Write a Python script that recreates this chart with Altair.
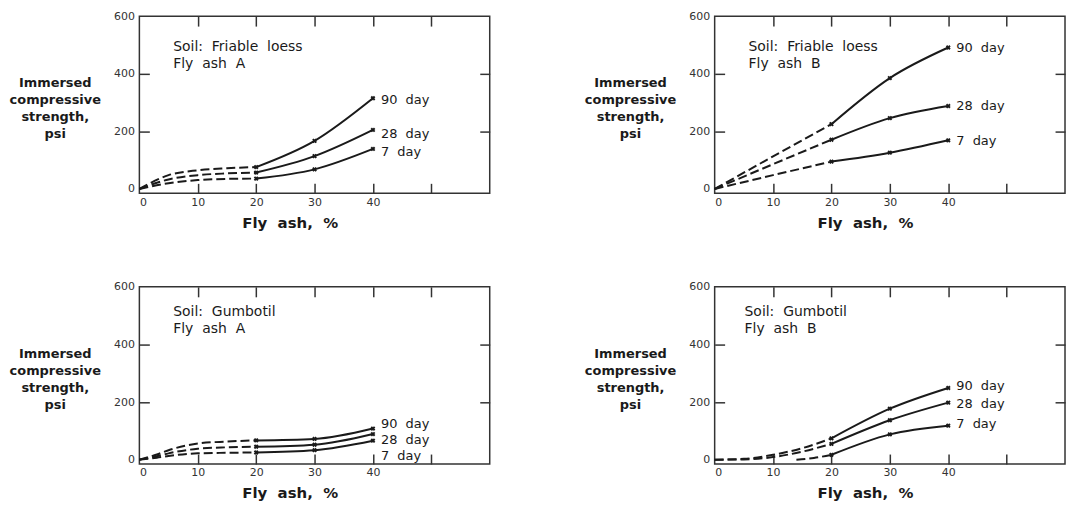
import altair as alt
import pandas as pd

SERIES = ["90 day", "28 day", "7 day"]
SERIES_TEXT = {"90 day": "90\u00a0 day", "28 day": "28\u00a0 day", "7 day": "7\u00a0 day"}
X_SOLID = [20, 30, 40]
X_TICKS = [0, 10, 20, 30, 40, 50]
Y_TICKS = [0, 200, 400, 600]

# Panel 1: Soil friable loess, fly ash A
P1_NOTE = "Soil:\u00a0 Friable\u00a0 loess\nFly\u00a0 ash\u00a0 A"
P1_DASH_X = {"90 day": [0, 5, 10, 15, 20], "28 day": [0, 5, 10, 15, 20], "7 day": [0, 5, 10, 15, 20]}
P1_DASH_Y = {"90 day": [0, 48, 65, 72, 76], "28 day": [0, 33, 48, 54, 57], "7 day": [0, 20, 31, 35, 36]}
P1_SOLID_Y = {"90 day": [76, 167, 315], "28 day": [57, 114, 205], "7 day": [36, 68, 139]}
P1_LABEL_Y = {"90 day": 310, "28 day": 190, "7 day": 128}

# Panel 2: Soil friable loess, fly ash B
P2_NOTE = "Soil:\u00a0 Friable\u00a0 loess\nFly\u00a0 ash\u00a0 B"
P2_DASH_X = {"90 day": [0, 10, 20], "28 day": [0, 10, 20], "7 day": [0, 10, 20]}
P2_DASH_Y = {"90 day": [0, 113, 225], "28 day": [0, 86, 171], "7 day": [0, 48, 95]}
P2_SOLID_Y = {"90 day": [225, 385, 491], "28 day": [171, 246, 288], "7 day": [95, 126, 169]}
P2_LABEL_Y = {"90 day": 491, "28 day": 289, "7 day": 168}

# Panel 3: Soil gumbotil, fly ash A
P3_NOTE = "Soil:\u00a0 Gumbotil\nFly\u00a0 ash\u00a0 A"
P3_DASH_X = {"90 day": [0, 3, 5, 10, 15, 20], "28 day": [0, 3, 5, 10, 15, 20], "7 day": [0, 3, 5, 10, 15, 20]}
P3_DASH_Y = {"90 day": [0, 18, 33, 56, 63, 67], "28 day": [0, 12, 22, 38, 43, 45], "7 day": [0, 7, 13, 22, 24, 25]}
P3_SOLID_Y = {"90 day": [67, 72, 108], "28 day": [45, 52, 89], "7 day": [25, 33, 66]}
P3_LABEL_Y = {"90 day": 124, "28 day": 68, "7 day": 14}

# Panel 4: Soil gumbotil, fly ash B
P4_NOTE = "Soil:\u00a0 Gumbotil\nFly\u00a0 ash\u00a0 B"
P4_DASH_X = {"90 day": [0, 5, 10, 15, 20], "28 day": [0, 5, 10, 15, 20], "7 day": [14, 17, 20]}
P4_DASH_Y = {"90 day": [0, 3, 17, 40, 74], "28 day": [0, 1, 9, 28, 55], "7 day": [0, 6, 17]}
P4_SOLID_Y = {"90 day": [74, 177, 249], "28 day": [55, 137, 198], "7 day": [17, 88, 118]}
P4_LABEL_Y = {"90 day": 257, "28 day": 192, "7 day": 123}

W = 352
H = 178
FONT = "DejaVu Sans"
INK = "#1a1a1a"


def make_panel(dash_x, dash_y, solid_y, label_y, note, note_x, note_y):
    dash_rows, solid_rows, label_rows = [], [], []
    for s in SERIES:
        for xv, yv in zip(dash_x[s], dash_y[s]):
            dash_rows.append({"x": xv, "y": yv, "series": s})
        for xv, yv in zip(X_SOLID, solid_y[s]):
            solid_rows.append({"x": xv, "y": yv, "series": s})
        label_rows.append({"x": X_SOLID[-1], "y": label_y[s], "series": s,
                           "label": SERIES_TEXT[s]})
    dash_df = pd.DataFrame(dash_rows)
    solid_df = pd.DataFrame(solid_rows)
    label_df = pd.DataFrame(label_rows)
    note_df = pd.DataFrame({"t": [note]})

    xs = alt.Scale(domain=[0, 60], nice=False, zero=False)
    ys = alt.Scale(domain=[-15, 600], nice=False, zero=False)

    x_bottom = alt.Axis(
        orient="bottom", values=X_TICKS, offset=-10, tickSize=10, domain=False,
        labelExpr="datum.value >= 50 ? '' : datum.label", labelPadding=3,
        labelFont=FONT, labelFontSize=11, labelColor="#333", grid=False,
        tickColor="#333", tickWidth=1.5,
        tickOpacity={"condition": {"test": "datum.value == 0", "value": 0}, "value": 1},
        title="Fly\u00a0 ash,\u00a0 %", titleFont=FONT, titleFontSize=15, titleFontWeight="bold",
        titleColor=INK, titleX=W / 2 - 25, titleY=39, titleAlign="center",
        titleBaseline="middle", titleAnchor="middle",
    )
    y_left = alt.Axis(
        orient="left", values=Y_TICKS, offset=-10, tickSize=10, domain=False,
        labelPadding=5, labelFont=FONT, labelFontSize=11, labelColor="#333", grid=False,
        tickColor="#333", tickWidth=1.5,
        tickOpacity={"condition": {"test": "datum.value == 0 || datum.value == 600", "value": 0}, "value": 1},
        title=["Immersed", "compressive", "strength,", "psi"], titleFont=FONT,
        titleFontSize=13, titleFontWeight="bold", titleColor=INK, titleAngle=0,
        titleAlign="center", titleBaseline="middle", titleLineHeight=17,
        titleX=-95, titleY=67,
    )
    x_top = alt.Axis(
        orient="top", values=[10, 20, 30, 40, 50], offset=-10, tickSize=10,
        domain=False, labels=False, title=None, grid=False,
        tickColor="#333", tickWidth=1.5,
    )
    y_right = alt.Axis(
        orient="right", values=[200, 400], offset=-10, tickSize=10,
        domain=False, labels=False, title=None, grid=False,
        tickColor="#333", tickWidth=1.5,
    )

    dashed = alt.Chart(dash_df).mark_line(
        strokeDash=[9, 4], strokeWidth=2, color=INK, interpolate="monotone"
    ).encode(
        x=alt.X("x:Q", scale=xs, axis=x_bottom),
        y=alt.Y("y:Q", scale=ys, axis=y_left),
        detail="series:N",
    )
    solid = alt.Chart(solid_df).mark_line(
        strokeWidth=2, color=INK, interpolate="monotone"
    ).encode(
        x=alt.X("x:Q", scale=xs, axis=x_top),
        y=alt.Y("y:Q", scale=ys, axis=y_right),
        detail="series:N",
    )
    pts = alt.Chart(solid_df).mark_point(
        shape="cross", angle=45, filled=True, size=24, color=INK, opacity=1
    ).encode(
        x=alt.X("x:Q", scale=xs, axis=None),
        y=alt.Y("y:Q", scale=ys, axis=None),
    )
    labels = alt.Chart(label_df).mark_text(
        align="left", baseline="middle", dx=8, font=FONT, fontSize=13, color=INK
    ).encode(
        x=alt.X("x:Q", scale=xs, axis=None),
        y=alt.Y("y:Q", scale=ys, axis=None),
        text="label:N",
    )
    note_mark = alt.Chart(note_df).mark_text(
        align="left", baseline="top", font=FONT, fontSize=14, color=INK,
        lineBreak="\n", lineHeight=17
    ).encode(
        x=alt.value(note_x), y=alt.value(note_y), text="t:N"
    )
    return alt.layer(dashed, solid, pts, labels, note_mark).resolve_axis(
        x="independent", y="independent"
    ).properties(width=W, height=H)


p1 = make_panel(P1_DASH_X, P1_DASH_Y, P1_SOLID_Y, P1_LABEL_Y, P1_NOTE, 34, 24)
p2 = make_panel(P2_DASH_X, P2_DASH_Y, P2_SOLID_Y, P2_LABEL_Y, P2_NOTE, 34, 24)
p3 = make_panel(P3_DASH_X, P3_DASH_Y, P3_SOLID_Y, P3_LABEL_Y, P3_NOTE, 34, 18)
p4 = make_panel(P4_DASH_X, P4_DASH_Y, P4_SOLID_Y, P4_LABEL_Y, P4_NOTE, 30, 18)

row1 = alt.hconcat(p1, p2, spacing=92)
row2 = alt.hconcat(p3, p4, spacing=92)

chart = alt.vconcat(row1, row2, spacing=49).properties(
    padding={"left": 0, "top": 0, "right": 0, "bottom": 0},
    background="white",
).configure_view(stroke="#333", strokeWidth=1.5)

chart.save("out.html", embed_options={"renderer": "svg", "actions": False})
